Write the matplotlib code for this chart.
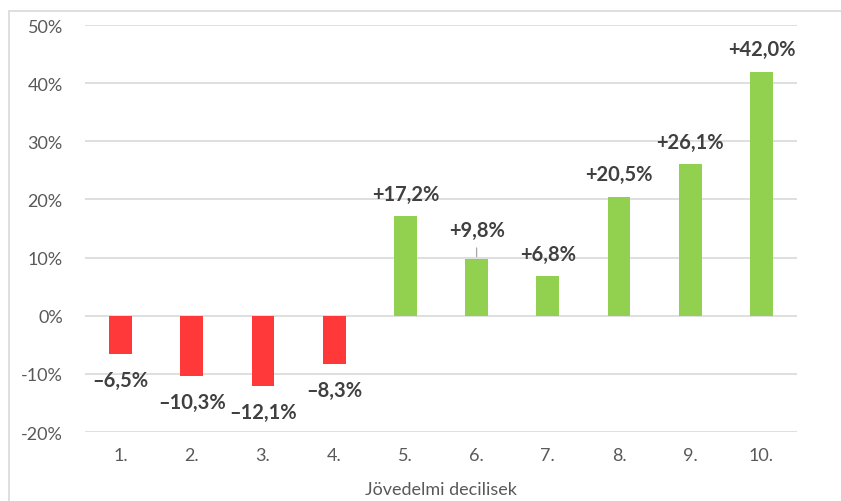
import matplotlib.pyplot as plt
from matplotlib.patches import Rectangle

plt.rcParams['font.family'] = ['Lato', 'DejaVu Sans']

deciles = ["1.", "2.", "3.", "4.", "5.", "6.", "7.", "8.", "9.", "10."]
change = [-6.5, -10.3, -12.1, -8.3, 17.2, 9.8, 6.8, 20.5, 26.1, 42.0]
yticks = [-20, -10, 0, 10, 20, 30, 40, 50]
ytick_labels = ["-20%", "-10%", "0%", "10%", "20%", "30%", "40%", "50%"]
xlabel = "Jövedelmi decilisek"

red = '#FF3939'
green = '#92D050'
grid = '#D9D9D9'
txt = '#595959'
lbl = '#404040'

fig = plt.figure(figsize=(8.41, 5.02), dpi=100)
ax = fig.add_axes([85 / 841, 1 - 433 / 502, (797 - 85) / 841, (433 - 26) / 502])

# light frame around the chart (cut off at right/bottom like the screenshot)
fig.patches.append(Rectangle((9 / 841, -0.1), 1.2, 1 - 12 / 502 + 0.1,
                             transform=fig.transFigure, fill=False,
                             edgecolor=grid, linewidth=1.2))

x = list(range(len(deciles)))
colors = [red if v < 0 else green for v in change]
ax.bar(x, change, width=0.32, color=colors, zorder=3)

for i, v in enumerate(change):
    s = ("+" if v > 0 else "–") + f"{abs(v):.1f}".replace(".", ",") + "%"
    kw = dict(ha='center', va='center', fontsize=14.5, fontweight='bold', color=lbl)
    if v < 0:
        ax.annotate(s, (i, v), xytext=(0, -19), textcoords='offset points', **kw)
    elif i == 5:
        # this label was nudged up in the original, with a leader line
        ax.annotate(s, (i, v), xytext=(0, 21), textcoords='offset points', **kw,
                    arrowprops=dict(arrowstyle='-', color='#A6A6A6', lw=0.9,
                                    shrinkA=4, shrinkB=1.5))
    else:
        ax.annotate(s, (i, v), xytext=(0, 16), textcoords='offset points', **kw)

ax.set_xlim(-0.5, len(deciles) - 0.5)
ax.set_ylim(-20, 50)
ax.set_yticks(yticks)
ax.set_yticklabels(ytick_labels)
ax.set_xticks(x)
ax.set_xticklabels(deciles)
ax.tick_params(length=0, labelsize=13, colors=txt)
ax.tick_params(axis='y', pad=16)
ax.tick_params(axis='x', pad=11)
ax.yaxis.grid(True, color=grid, linewidth=1.2, zorder=0)
ax.set_axisbelow(True)
for sp in ax.spines.values():
    sp.set_visible(False)

ax.set_xlabel(xlabel, fontsize=13, color=txt, labelpad=13)

fig.savefig("out.png", dpi=100)
